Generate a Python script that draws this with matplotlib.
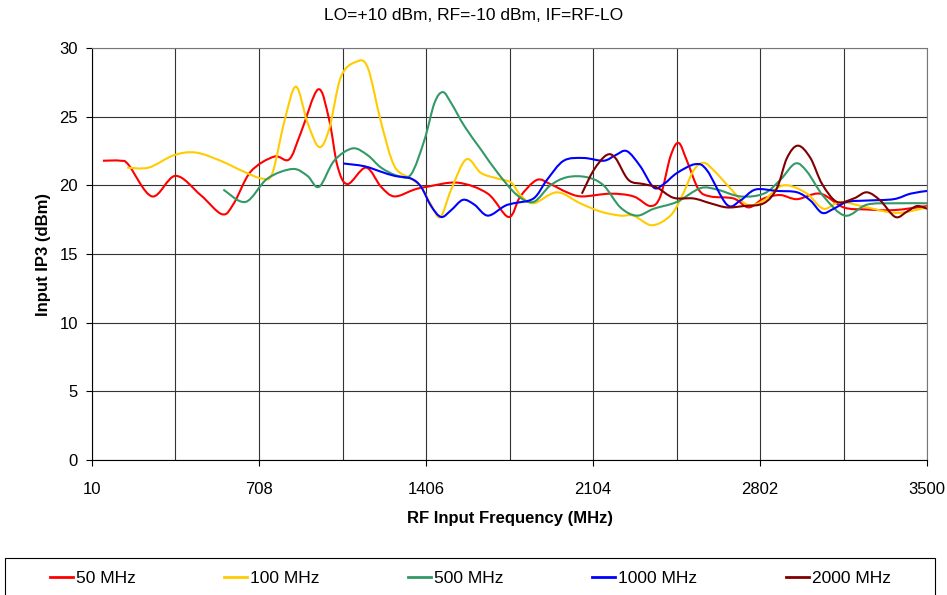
import matplotlib
matplotlib.use("Agg")
import matplotlib.pyplot as plt
from matplotlib.path import Path
from matplotlib.patches import PathPatch, Rectangle
from matplotlib.lines import Line2D
import numpy as np

plt.rcParams['font.family'] = ['Liberation Sans', 'DejaVu Sans']

# values (MHz, dBm)
f_50 = [56, 129, 163, 261, 359, 464, 554, 603, 673, 771, 834, 882, 955, 1001, 1036,
        1078, 1155, 1218, 1274, 1357, 1409, 1539, 1664, 1751, 1800, 1869, 1925, 1995,
        2057, 2176, 2273, 2343, 2385, 2427, 2461, 2496, 2545, 2594, 2691, 2754, 2817,
        2886, 2956, 3053, 3151, 3248, 3360, 3500]
ip3_50 = [21.8, 21.8, 21.5, 19.2, 20.7, 19.3, 17.9, 18.7, 21.0, 22.1, 21.9, 23.8, 27.0,
          24.8, 21.4, 20.1, 21.3, 19.9, 19.2, 19.7, 19.9, 20.2, 19.4, 17.7, 19.2, 20.4,
          20.1, 19.5, 19.2, 19.4, 19.2, 18.5, 19.2, 22.1, 23.1, 21.8, 19.7, 19.2, 19.05,
          18.4, 19.05, 19.3, 19.0, 19.4, 18.4, 18.25, 18.2, 18.5]

f_100 = [157, 247, 352, 443, 547, 645, 722, 764, 813, 862, 910, 959, 1001, 1050, 1113,
         1162, 1218, 1274, 1343, 1385, 1427, 1466, 1511, 1574, 1636, 1706, 1762, 1800,
         1855, 1953, 2050, 2134, 2218, 2273, 2350, 2427, 2475, 2524, 2566, 2608, 2677,
         2747, 2817, 2872, 2921, 2998, 3067, 3137, 3248, 3374, 3500]
ip3_100 = [21.3, 21.3, 22.2, 22.4, 21.8, 21.0, 20.5, 20.9, 24.6, 27.2, 24.6, 22.8, 24.1,
           27.9, 29.0, 28.6, 24.6, 21.4, 20.5, 19.9, 18.6, 17.7, 19.7, 21.9, 20.9, 20.5,
           20.2, 19.3, 18.7, 19.5, 18.7, 18.1, 17.8, 17.8, 17.1, 17.8, 19.2, 21.1, 21.65,
           21.1, 19.8, 18.6, 18.9, 19.8, 20.0, 19.4, 18.3, 18.8, 18.4, 18.0, 18.4]

f_500 = [559, 652, 743, 848, 910, 959, 1022, 1099, 1162, 1218, 1287, 1343, 1399, 1441,
         1476, 1511, 1567, 1636, 1706, 1786, 1855, 1925, 1995, 2078, 2148, 2218, 2287,
         2357, 2454, 2552, 2622, 2719, 2817, 2886, 2949, 2998, 3067, 3157, 3248, 3360, 3500]
ip3_500 = [19.7, 18.8, 20.5, 21.2, 20.7, 19.9, 21.8, 22.7, 22.2, 21.3, 20.7, 20.8, 23.3,
           26.0, 26.8, 26.0, 24.3, 22.6, 20.9, 19.3, 18.8, 20.0, 20.6, 20.6, 20.0, 18.4,
           17.8, 18.3, 18.8, 19.8, 19.7, 19.2, 19.4, 20.4, 21.6, 21.0, 19.2, 17.8, 18.6,
           18.7, 18.7]

f_1000 = [1060, 1148, 1218, 1274, 1343, 1385, 1427, 1469, 1511, 1560, 1608, 1664, 1734,
          1772, 1855, 1911, 1981, 2064, 2148, 2197, 2245, 2301, 2357, 2399, 2454, 2531,
          2580, 2663, 2719, 2782, 2872, 2956, 3012, 3061, 3109, 3165, 3248, 3360, 3430, 3500]
ip3_1000 = [21.6, 21.4, 21.0, 20.7, 20.5, 19.9, 18.5, 17.7, 18.2, 18.95, 18.6, 17.8, 18.5,
            18.7, 19.05, 20.4, 21.8, 22.0, 21.8, 22.2, 22.5, 21.4, 19.85, 20.1, 20.9, 21.55,
            21.1, 18.6, 18.9, 19.7, 19.6, 19.5, 18.9, 18.0, 18.3, 18.8, 18.9, 19.0, 19.4, 19.6]

f_2000 = [2057, 2106, 2159, 2197, 2252, 2315, 2371, 2440, 2524, 2594, 2663, 2733, 2817,
          2872, 2914, 2960, 3012, 3061, 3123, 3193, 3248, 3304, 3367, 3416, 3458, 3500]
ip3_2000 = [19.4, 21.1, 22.2, 22.0, 20.4, 20.1, 19.85, 19.1, 19.05, 18.7, 18.4, 18.5, 18.7,
            19.8, 22.0, 22.9, 22.0, 20.1, 18.8, 19.05, 19.5, 18.9, 17.7, 18.1, 18.5, 18.3]

series = [
    (f_50, ip3_50, '#FF0000', '50 MHz'),
    (f_100, ip3_100, '#FFCC00', '100 MHz'),
    (f_500, ip3_500, '#339966', '500 MHz'),
    (f_1000, ip3_1000, '#0000FF', '1000 MHz'),
    (f_2000, ip3_2000, '#800000', '2000 MHz'),
]


def smooth_path(x, y):
    # excel style smoothed line: cubic bezier through every point
    p = np.column_stack([x, y]).astype(float)
    n = len(p)
    verts = [p[0]]
    codes = [Path.MOVETO]
    for i in range(n - 1):
        prev = p[i - 1] if i > 0 else p[i]
        nxt = p[i + 2] if i + 2 < n else p[i + 1]
        c1 = p[i] + (p[i + 1] - prev) / 6
        c2 = p[i + 1] - (nxt - p[i]) / 6
        verts += [c1, c2, p[i + 1]]
        codes += [Path.CURVE4] * 3
    return Path(verts, codes)


fig = plt.figure(figsize=(9.47, 5.95), dpi=100)
ax = fig.add_axes([0.0971, 0.227, 0.882, 0.692])

handles = []
for fx, fy, col, lab in series:
    ax.add_patch(PathPatch(smooth_path(fx, fy), fill=False, edgecolor=col, lw=1.5,
                           joinstyle='round', capstyle='butt'))
    handles.append(Line2D([], [], color=col, lw=2))

ax.set_xlim(10, 3500)
ax.set_ylim(0, 30)
ax.set_xticks(np.arange(10, 3501, 698))
ax.set_xticks(np.arange(359, 3500, 698), minor=True)
ax.set_yticks(np.arange(0, 31, 5))
ax.grid(True, which='both', color='#333333', lw=0.8)
ax.set_axisbelow(True)
ax.tick_params(axis='both', which='major', labelsize=12, length=4, width=0.8, direction='out', pad=6)
ax.tick_params(axis='x', which='minor', length=0)
ax.tick_params(axis='x', which='major', pad=12)
for side in ['top', 'right']:
    ax.spines[side].set_color('#777777')
for side in ['left', 'bottom']:
    ax.spines[side].set_color('black')

fig.suptitle('LO=+10 dBm, RF=-10 dBm, IF=RF-LO', x=0.5, y=1 - 15 / 595, va='center', fontsize=12.5)
ax.set_xlabel('RF Input Frequency (MHz)', fontsize=12, fontweight='bold', labelpad=10)
ax.set_ylabel('Input IP3 (dBm)', fontsize=12, fontweight='bold', labelpad=6)

# legend frame runs past the bottom edge like in the original
fig.add_artist(Rectangle((5 / 947, -0.02), 930 / 947, 0.02 + 1 - 558 / 595, transform=fig.transFigure,
                         fill=False, edgecolor='black', lw=0.8))
fig.legend(handles, [s[3] for s in series], loc='center left',
           bbox_to_anchor=(50 / 947, 1 - 578 / 595, 841 / 947, 0.0),
           mode='expand', ncol=5, fontsize=12.5, handlelength=1.3, handletextpad=0.2,
           frameon=False, borderpad=0, borderaxespad=0)

fig.savefig('out.png', dpi=100)
